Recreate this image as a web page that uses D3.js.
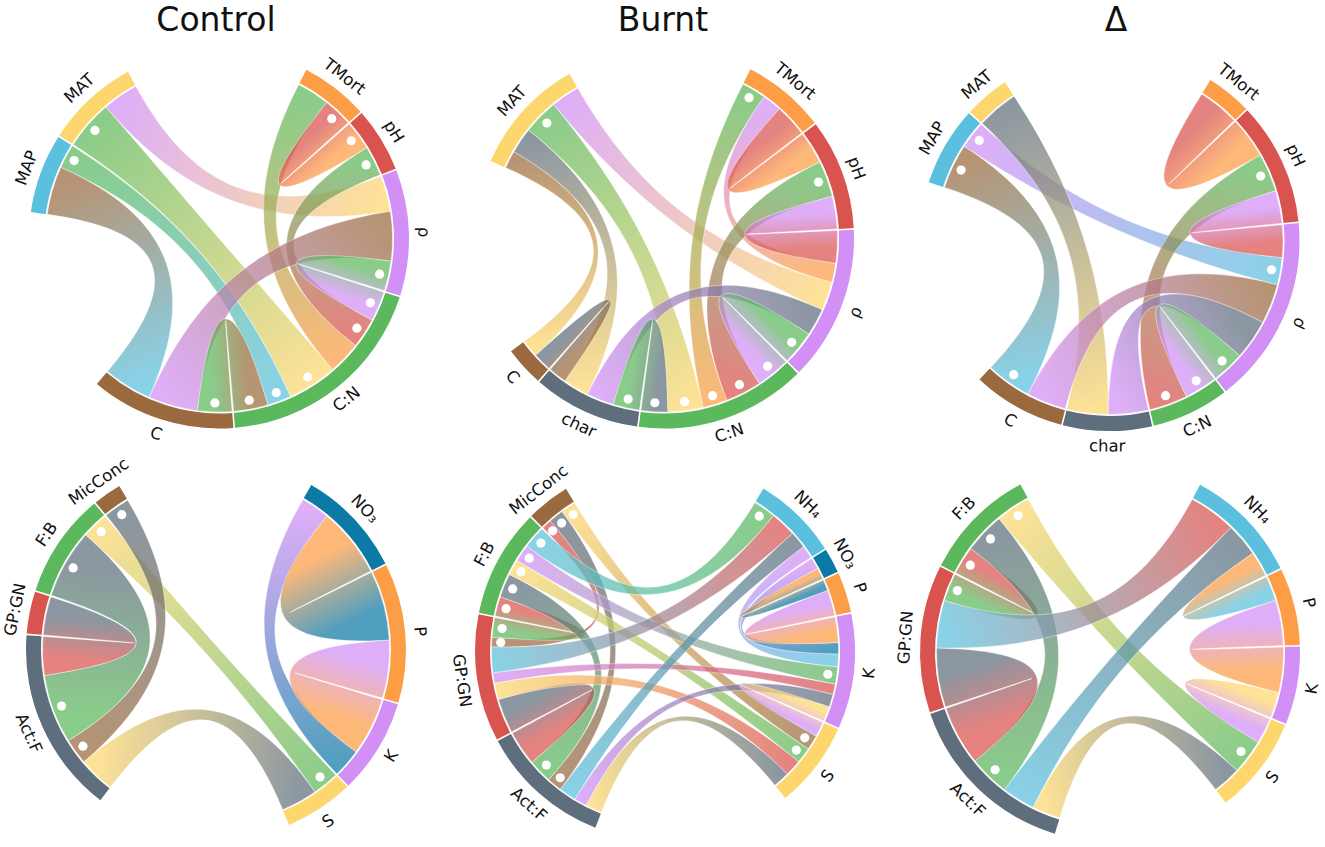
<!DOCTYPE html>
<html><head><meta charset="utf-8">
<script src="https://cdn.jsdelivr.net/npm/d3@7"></script>
<style>
body{margin:0;background:#fff}
svg{display:block}
text{font-family:"DejaVu Sans",sans-serif;fill:#111}
</style></head>
<body><svg id="chart" width="1325" height="847"></svg>
<script>
// ---------------- data ----------------
const titles = ["Control", "Burnt", "Δ"];

const colorOf = {
  "MAP":"#5bc0de","MAT":"#fdd76e","TMort":"#fd9d46","pH":"#d9534f","ρ":"#d28ff5",
  "C:N":"#5cb85c","C":"#9a6a3e","char":"#5e6e7c",
  "MicConc":"#9a6a3e","F:B":"#5cb85c","GP:GN":"#d9534f","Act:F":"#5e6e7c",
  "NO₃":"#0d7aa6","NH₄":"#5bc0de","P":"#fd9d46","K":"#d28ff5","S":"#fdd76e"
};

// group order (clockwise) per panel
const groupsTopControl = ["MAP","MAT","TMort","pH","ρ","C:N","C"];
const groupsTopBurnt   = ["MAT","TMort","pH","ρ","C:N","char","C"];
const groupsTopDelta   = ["MAP","MAT","TMort","pH","ρ","C:N","char","C"];
const groupsBotControl = ["NO₃","P","K","S","Act:F","GP:GN","F:B","MicConc"];
const groupsBotBurnt   = ["NH₄","NO₃","P","K","S","Act:F","GP:GN","F:B","MicConc"];
const groupsBotDelta   = ["NH₄","P","K","S","Act:F","GP:GN","F:B"];

// chords: [group A, group B, strength, marked(1 = white dot)]
const chordsTopControl = [
  ["MAP","C",0.65,0],["MAP","C:N",0.32,1],["MAT","C:N",0.66,1],["MAT","ρ",0.48,0],
  ["TMort","C:N",0.44,0],["TMort","pH",0.39,1],["pH","C:N",0.40,1],["ρ","C",0.66,0],
  ["ρ","C:N",0.40,1],["C","C:N",0.46,1]
];
const chordsTopBurnt = [
  ["MAT","C",0.24,0],["MAT","char",0.35,0],["MAT","C:N",0.48,1],["MAT","ρ",0.39,0],
  ["TMort","C:N",0.33,1],["TMort","ρ",0.26,0],["TMort","pH",0.44,0],["pH","C:N",0.49,1],
  ["pH","ρ",0.44,0],["ρ","char",0.37,0],["ρ","C:N",0.46,1],["char","C:N",0.36,1],
  ["char","C",0.25,0]
];
const chordsTopDelta = [
  ["MAP","C",0.61,1],["MAP","ρ",0.37,1],["MAT","char",0.56,0],["TMort","pH",0.56,0],
  ["pH","C:N",0.52,1],["pH","ρ",0.44,0],["ρ","C",0.54,0],["ρ","char",0.54,0],
  ["ρ","C:N",0.44,1]
];
const chordsBotControl = [
  ["NO₃","K",0.39,0],["NO₃","P",0.94,0],["P","K",0.78,0],["F:B","S",0.36,1],
  ["Act:F","S",0.49,0],["MicConc","Act:F",0.35,1],["F:B","Act:F",0.93,1],["GP:GN","Act:F",0.52,0]
];
const chordsBotBurnt = [
  ["MicConc","GP:GN",0.13,1],["MicConc","Act:F",0.20,1],["MicConc","S",0.20,1],
  ["F:B","GP:GN",0.26,1],["F:B","Act:F",0.32,1],["F:B","S",0.21,1],["F:B","K",0.23,1],["F:B","NH₄",0.30,1],
  ["GP:GN","Act:F",0.46,0],["GP:GN","S",0.22,0],["GP:GN","K",0.14,0],["GP:GN","NH₄",0.34,0],
  ["Act:F","S",0.22,0],["Act:F","K",0.17,0],["Act:F","NH₄",0.23,0],
  ["NH₄","K",0.17,0],["NO₃","K",0.15,0],["NO₃","P",0.15,0],["P","K",0.34,0],["K","S",0.20,0]
];
const chordsBotDelta = [
  ["F:B","GP:GN",0.38,1],["F:B","Act:F",0.55,1],["F:B","S",0.47,1],
  ["GP:GN","Act:F",0.80,0],["GP:GN","NH₄",0.64,0],["NH₄","Act:F",0.45,0],
  ["NH₄","P",0.34,0],["P","K",0.61,0],["K","S",0.35,0],["Act:F","S",0.38,0]
];

// ---------------- layout ----------------
const panels = [
  {groups:groupsTopControl, chords:chordsTopControl, cx:219,   cy:238.5, start:-82,   breakAfter:1, gap1:56,   gap2:58},
  {groups:groupsTopBurnt,   chords:chordsTopBurnt,   cx:664,   cy:238.5, start:-65.9, breakAfter:0, gap1:56.9, gap2:60.5},
  {groups:groupsTopDelta,   chords:chordsTopDelta,   cx:1109.5,cy:241,   start:-72,   breakAfter:1, gap1:65.5, gap2:64.8},
  {groups:groupsBotControl, chords:chordsBotControl, cx:216,   cy:649.5, start:30.1,  breakAfter:3, gap1:60.1, gap2:60.7},
  {groups:groupsBotBurnt,   chords:chordsBotBurnt,   cx:665,   cy:651,   start:31.2,  breakAfter:4, gap1:60.8, gap2:62.6},
  {groups:groupsBotDelta,   chords:chordsBotDelta,   cx:1110,  cy:652,   start:28.3,  breakAfter:3, gap1:54.4, gap2:56.4}
];
const titleX = [216, 663, 1116];

const SMALL_GAP = 0.5;
const R_OUT = 190, BAR = 15, R_IN = R_OUT - BAR, R_CHORD = R_IN - 1.5;
const R_CTRL = 0.3 * R_CHORD, R_LABEL = R_OUT + 15, R_DOT = R_CHORD - 9;
const rad = d => d * Math.PI / 180;
const pt = (r, deg) => [r * Math.sin(rad(deg)), -r * Math.cos(rad(deg))];

const svg = d3.select("#chart");
const defs = svg.append("defs");
let gradId = 0;

svg.selectAll("text.title").data(titles).join("text")
  .attr("class","title")
  .attr("x",(d,i)=>titleX[i]).attr("y",31)
  .attr("text-anchor","middle")
  .style("font-size","33px")
  .text(d=>d);

function ribbonPath(e0, e1) {
  const p = d3.path();
  const A0 = pt(R_CHORD, e0.a0);
  p.moveTo(A0[0], A0[1]);
  p.arc(0, 0, R_CHORD, rad(e0.a0 - 90), rad(e0.a1 - 90));
  const c1 = pt(R_CTRL, e0.a1), c2 = pt(R_CTRL, e1.a0), B0 = pt(R_CHORD, e1.a0);
  p.bezierCurveTo(c1[0], c1[1], c2[0], c2[1], B0[0], B0[1]);
  p.arc(0, 0, R_CHORD, rad(e1.a0 - 90), rad(e1.a1 - 90));
  const c3 = pt(R_CTRL, e1.a1), c4 = pt(R_CTRL, e0.a0);
  p.bezierCurveTo(c3[0], c3[1], c4[0], c4[1], A0[0], A0[1]);
  p.closePath();
  return p.toString();
}

function drawPanel(cfg) {
  const {groups, chords} = cfg;
  const totals = new Map(groups.map(n => [n, 0]));
  chords.forEach(([a, b, v]) => {
    totals.set(a, totals.get(a) + v);
    totals.set(b, totals.get(b) + v);
  });
  const avail = 360 - cfg.gap1 - cfg.gap2 - (groups.length - 2) * SMALL_GAP;
  const angle = d3.scaleLinear()
    .domain([0, d3.sum(groups, n => totals.get(n))])
    .range([0, avail]);

  const G = new Map();
  let a = cfg.start;
  groups.forEach((n, i) => {
    const w = angle(totals.get(n));
    G.set(n, {name: n, start: a, end: a + w, mid: a + w / 2});
    a += w + (i === cfg.breakAfter ? cfg.gap1 : SMALL_GAP);
  });

  // chord ends inside each group, ordered so ribbons do not cross near the arc
  const ends = chords.map(() => [null, null]);
  groups.forEach(n => {
    const grp = G.get(n);
    const list = [];
    chords.forEach((c, i) => {
      if (c[0] === n) list.push({i, side: 0, partner: c[1], v: c[2]});
      else if (c[1] === n) list.push({i, side: 1, partner: c[0], v: c[2]});
    });
    list.forEach(e => e.off = (((G.get(e.partner).mid - grp.mid) % 360) + 360) % 360);
    list.sort((x, y) => y.off - x.off);
    let s = grp.start;
    list.forEach(e => {
      const w = angle(e.v);
      ends[e.i][e.side] = {a0: s, a1: s + w, mid: s + w / 2, group: n};
      s += w;
    });
  });

  const g = svg.append("g").attr("transform", `translate(${cfg.cx},${cfg.cy})`);

  // ideogram arcs
  const arc = d3.arc().innerRadius(R_IN).outerRadius(R_OUT);
  g.selectAll("path.grp").data(groups.map(n => G.get(n))).join("path")
    .attr("class", "grp")
    .attr("d", d => arc({startAngle: rad(d.start), endAngle: rad(d.end)}))
    .attr("fill", d => colorOf[d.name]);

  // ribbons (each end is tinted with the partner's colour)
  chords.forEach((c, i) => {
    const [e0, e1] = ends[i];
    const p0 = pt(R_CHORD, e0.mid), p1 = pt(R_CHORD, e1.mid);
    const id = "grad" + (gradId++);
    const lg = defs.append("linearGradient").attr("id", id)
      .attr("gradientUnits", "userSpaceOnUse")
      .attr("x1", p0[0]).attr("y1", p0[1])
      .attr("x2", p1[0]).attr("y2", p1[1]);
    lg.append("stop").attr("offset", 0).attr("stop-color", colorOf[c[1]]);
    lg.append("stop").attr("offset", 1).attr("stop-color", colorOf[c[0]]);
    g.append("path")
      .attr("d", ribbonPath(e0, e1))
      .attr("fill", `url(#${id})`)
      .attr("fill-opacity", 0.72)
      .attr("stroke", "#fff").attr("stroke-width", 0.7).attr("stroke-opacity", 0.6);
  });

  // white dots on marked chords
  const dots = [];
  chords.forEach((c, i) => { if (c[3]) ends[i].forEach(e => dots.push(e)); });
  g.selectAll("circle.dot").data(dots).join("circle")
    .attr("class", "dot")
    .attr("cx", d => pt(R_DOT, d.mid)[0])
    .attr("cy", d => pt(R_DOT, d.mid)[1])
    .attr("r", 4.6).attr("fill", "#fff");

  // labels
  g.selectAll("text.lbl").data(groups.map(n => G.get(n))).join("text")
    .attr("class", "lbl")
    .attr("transform", d => {
      const [x, y] = pt(R_LABEL, d.mid);
      const t = ((d.mid % 360) + 360) % 360;
      const rot = (t > 90 && t < 270) ? t - 180 : (t >= 270 ? t - 360 : t);
      return `translate(${x},${y}) rotate(${rot})`;
    })
    .attr("text-anchor", "middle")
    .attr("dominant-baseline", "central")
    .style("font-size", "16.5px")
    .text(d => d.name);
}

panels.forEach(drawPanel);
</script>
</body></html>
